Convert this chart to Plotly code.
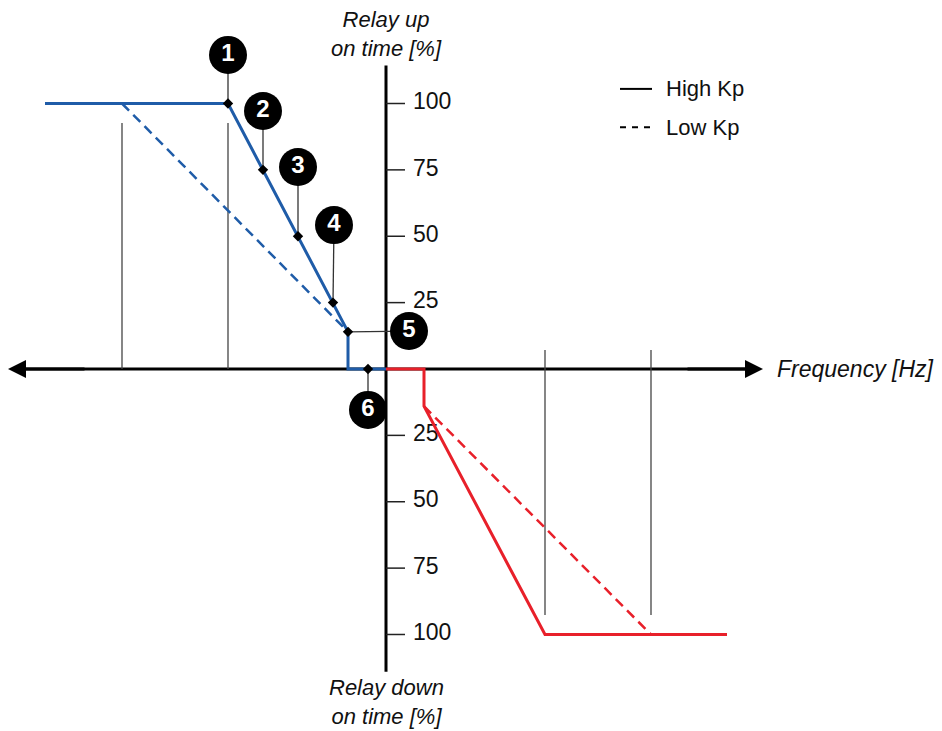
import plotly.graph_objs as go

# frequency offsets (arbitrary units, 0 = nominal) and relay on-time [%]
up_high_x = [-34.1, -15.8, -3.8, -3.8, 0]
up_high_y = [100, 100, 14, 0, 0]
up_low_x = [-26.4, -3.8]
up_low_y = [100, 14]

down_high_x = [0, 3.8, 3.8, 15.9, 34.1]
down_high_y = [0, 0, -14, -100, -100]
down_low_x = [3.8, 26.5]
down_low_y = [-14, -100]

# numbered operating points on the high Kp up curve
point_x = [-15.8, -12.3, -8.8, -5.3, -3.8, -1.8]
point_y = [100, 75, 50, 25, 14, 0]
label_x = [-15.8, -12.3, -8.8, -5.2, 2.3, -1.8]
label_y = [118.3, 97.2, 76.1, 54.2, 14.3, -15.4]
labels = ['1', '2', '3', '4', '5', '6']

# thin reference lines (x, y_top, y_bottom)
ref_x = [-26.4, -15.8, 15.9, 26.5]
ref_top = [92.7, 92.7, 7.2, 7.2]
ref_bottom = [0, 0, -92.7, -92.7]

tick_vals = [100, 75, 50, 25, -25, -50, -75, -100]
tick_text = ['100', '75', '50', '25', '25', '50', '75', '100']

legend_names = ['High Kp', 'Low Kp']
legend_dash = ['solid', '6px,6px']

BLUE = '#1f5ca8'
RED = '#e8202a'
FONT = 'Liberation Sans, Arial, sans-serif'

fig = go.Figure()

# reference verticals
for xv, yt, yb in zip(ref_x, ref_top, ref_bottom):
    fig.add_trace(go.Scatter(x=[xv, xv], y=[yt, yb], mode='lines',
                             line=dict(color='#444444', width=1.3),
                             showlegend=False, hoverinfo='skip'))

# y-axis tick marks
tx, ty = [], []
for v in tick_vals:
    tx += [0, 1.9, None]
    ty += [v, v, None]
fig.add_trace(go.Scatter(x=tx, y=ty, mode='lines', line=dict(color='#222222', width=1.5),
                         showlegend=False, hoverinfo='skip'))
fig.add_trace(go.Scatter(x=[2.7] * len(tick_vals), y=tick_vals, mode='text', text=tick_text,
                         textposition='middle right',
                         textfont=dict(family=FONT, size=23, color='#111111'),
                         showlegend=False, hoverinfo='skip'))

# axis lines drawn below the curves (arrows added as annotations)
fig.add_shape(type='line', x0=-36, x1=36, y0=0, y1=0, layer='below',
              line=dict(color='black', width=3))
fig.add_shape(type='line', x0=0, x1=0, y0=114.3, y1=-114, layer='below',
              line=dict(color='black', width=3))

# curves
fig.add_trace(go.Scatter(x=up_low_x, y=up_low_y, mode='lines',
                         line=dict(color=BLUE, width=2.5, dash='10px,6px'),
                         showlegend=False, hoverinfo='skip'))
fig.add_trace(go.Scatter(x=down_low_x, y=down_low_y, mode='lines',
                         line=dict(color=RED, width=2.5, dash='10px,6px'),
                         showlegend=False, hoverinfo='skip'))
fig.add_trace(go.Scatter(x=up_high_x, y=up_high_y, mode='lines',
                         line=dict(color=BLUE, width=3),
                         showlegend=False, hoverinfo='skip'))
fig.add_trace(go.Scatter(x=down_high_x, y=down_high_y, mode='lines',
                         line=dict(color=RED, width=3),
                         showlegend=False, hoverinfo='skip'))

# callout lines
cx, cy = [], []
for px, py, lx, ly in zip(point_x, point_y, label_x, label_y):
    cx += [px, lx, None]
    cy += [py, ly, None]
fig.add_trace(go.Scatter(x=cx, y=cy, mode='lines', line=dict(color='#333333', width=1.3),
                         showlegend=False, hoverinfo='skip'))
fig.add_trace(go.Scatter(x=point_x, y=point_y, mode='markers',
                         marker=dict(symbol='diamond', size=8, color='black'),
                         showlegend=False, hoverinfo='skip'))
fig.add_trace(go.Scatter(x=label_x, y=label_y, mode='markers+text', text=labels,
                         marker=dict(size=38, color='black'),
                         textposition='middle center',
                         textfont=dict(family=FONT, size=24, color='white', weight='bold'),
                         showlegend=False, hoverinfo='skip'))

# hand-drawn legend (black samples, top right)
for i, (name, dash) in enumerate(zip(legend_names, legend_dash)):
    ly = 105.5 - i * 14.4
    fig.add_trace(go.Scatter(x=[23.4, 26.6], y=[ly, ly], mode='lines',
                             line=dict(color='black', width=2, dash=dash),
                             showlegend=False, hoverinfo='skip'))
    fig.add_annotation(x=27.8, y=ly, text=name, showarrow=False, xanchor='left',
                       font=dict(family=FONT, size=22, color='#111111'))

# arrowheads on the frequency axis
for tip, tail in [(-37.8, -30), (37.7, 30)]:
    fig.add_annotation(x=tip, y=0, ax=tail, ay=0, axref='x', ayref='y', xref='x', yref='y',
                       showarrow=True, arrowhead=2, arrowsize=1.2, arrowwidth=3,
                       arrowcolor='black', text='')

ital = dict(family=FONT, size=22, color='#111111', style='italic')
fig.add_annotation(x=0, y=126.2, text='Relay up<br>on time [%]', showarrow=False,
                   font=ital, xref='x', yref='y', yanchor='middle', align='center')
fig.add_annotation(x=0, y=-125.4, text='Relay down<br>on time [%]', showarrow=False,
                   font=ital, xref='x', yref='y', yanchor='middle', align='center')
fig.add_annotation(x=55.0, y=0, text='Frequency [Hz]', showarrow=False,
                   font=dict(family=FONT, size=23, color='#111111', style='italic'),
                   xref='x', yref='y', xanchor='right')

# the page body adds an 8px offset, so the figure is 8px smaller and ranges start at page px 8
fig.update_xaxes(range=[-37.8, 55.6], visible=False, fixedrange=True)
fig.update_yaxes(range=[-136.35, 135.97], visible=False, fixedrange=True)
fig.update_layout(
    width=934, height=723,
    margin=dict(l=0, r=0, t=0, b=0),
    plot_bgcolor='white', paper_bgcolor='white',
    showlegend=False,
)

fig.write_html("out.html")
